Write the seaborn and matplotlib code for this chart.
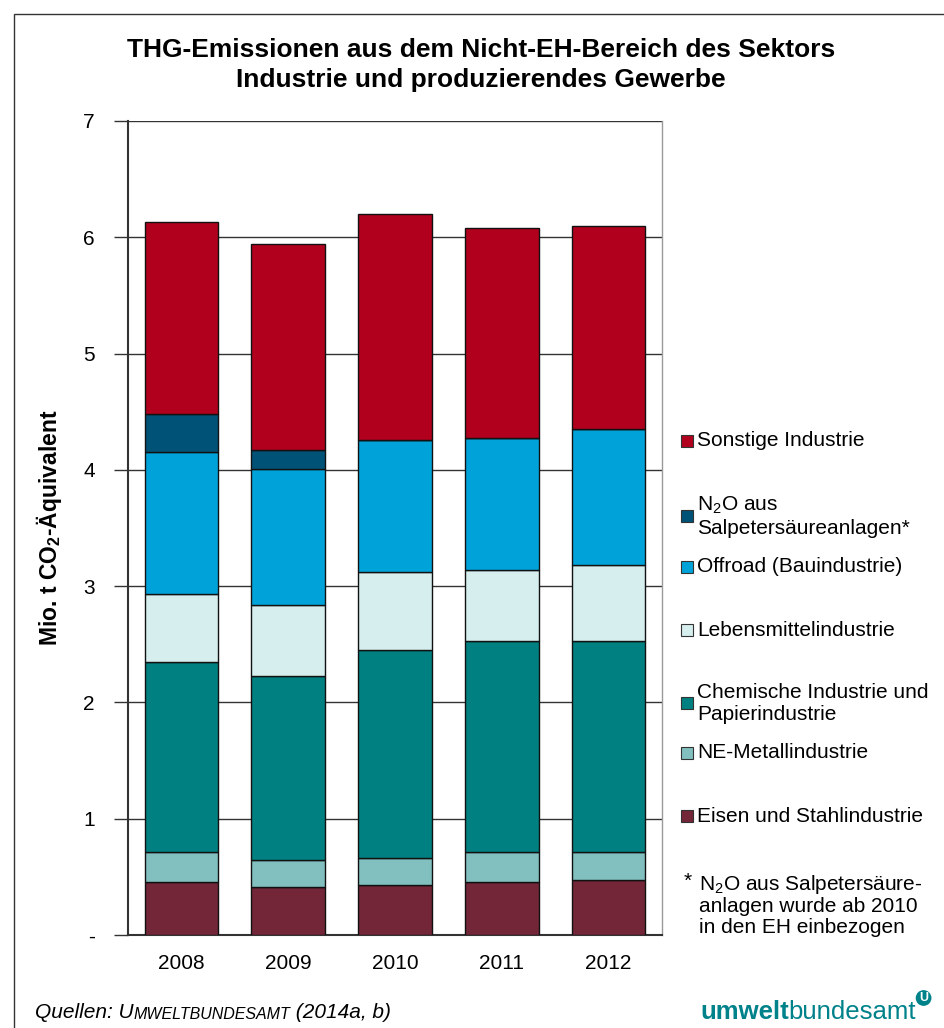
import matplotlib
matplotlib.use("Agg")
import matplotlib.pyplot as plt
import seaborn as sns
import pandas as pd
import numpy as np
from matplotlib.patches import Rectangle

years = ["2008", "2009", "2010", "2011", "2012"]
eisen = [0.46, 0.41, 0.43, 0.46, 0.47]
ne_metall = [0.25, 0.235, 0.23, 0.25, 0.24]
chemie = [1.64, 1.58, 1.79, 1.82, 1.82]
lebensmittel = [0.58, 0.61, 0.67, 0.61, 0.65]
offroad = [1.22, 1.17, 1.14, 1.13, 1.17]
n2o = [0.33, 0.165, 0.0, 0.0, 0.0]
sonstige = [1.65, 1.77, 1.94, 1.81, 1.75]

series_names = ["Eisen und Stahlindustrie", "NE-Metallindustrie",
                "Chemische Industrie und Papierindustrie", "Lebensmittelindustrie",
                "Offroad (Bauindustrie)", "N2O aus Salpetersäureanlagen*",
                "Sonstige Industrie"]
series_values = [eisen, ne_metall, chemie, lebensmittel, offroad, n2o, sonstige]
colors = ["#722638", "#82BFBF", "#008080", "#D6EEEE", "#00A3D9", "#005276", "#B0001E"]

legend_labels = ["Sonstige Industrie", "N$_2$O aus\nSalpetersäureanlagen*",
                 "Offroad (Bauindustrie)", "Lebensmittelindustrie",
                 "Chemische Industrie und\nPapierindustrie", "NE-Metallindustrie",
                 "Eisen und Stahlindustrie"]
legend_colors = colors[::-1]

yticks = [0, 1, 2, 3, 4, 5, 6, 7]
ytick_labels = ["-", "1", "2", "3", "4", "5", "6", "7"]

sns.set_theme(style="white")
plt.rcParams['font.family'] = ['Liberation Sans', 'DejaVu Sans']
plt.rcParams['text.color'] = 'black'
plt.rcParams['axes.labelcolor'] = 'black'
plt.rcParams['xtick.color'] = 'black'
plt.rcParams['ytick.color'] = 'black'
plt.rcParams['mathtext.fontset'] = 'custom'
plt.rcParams['mathtext.rm'] = 'Liberation Sans'
plt.rcParams['mathtext.bf'] = 'Liberation Sans:bold'

fig = plt.figure(figsize=(9.44, 10.28), dpi=100)
ax = fig.add_axes([128/944, 1-935/1028, (662-128)/944, (935-121)/1028])

df = pd.DataFrame({"year": years})
bottom = np.zeros(len(years))
for name, vals, col in zip(series_names, series_values, colors):
    df["v"] = vals
    sns.barplot(data=df, x="year", y="v", ax=ax, color=col, bottom=bottom,
                width=0.69, edgecolor="#111111", linewidth=1.0,
                saturation=1, zorder=3, errorbar=None)
    bottom = bottom + np.array(vals)

ax.set_ylim(0, 7)
ax.set_xlim(-0.5, 4.5)
ax.set_yticks(yticks)
ax.set_yticklabels(ytick_labels, fontsize=15)
ax.set_xticks(range(len(years)))
ax.set_xticklabels(years, fontsize=15)
ax.set_xlabel("")
ax.set_ylabel(r"Mio. t CO$_\mathbf{2}$-Äquivalent", fontsize=16.5, fontweight="bold", labelpad=14)
ax.yaxis.grid(True, color="#333333", linewidth=1.0, zorder=0)
ax.set_axisbelow(True)
ax.tick_params(axis="y", which="both", left=True, length=10, width=1, color="#333333", pad=14, direction="out")
ax.tick_params(axis="x", which="both", bottom=False, pad=8)
for s in ["left", "bottom"]:
    ax.spines[s].set_color("#333333")
    ax.spines[s].set_linewidth(1.5)
ax.spines["top"].set_visible(False)
ax.spines["right"].set_color("#999999")
ax.spines["right"].set_linewidth(1.0)

# frame around figure
fig.patches.append(Rectangle((14/944, -0.1), 1.2, 1 - 14/1028 + 0.1, transform=fig.transFigure,
                             fill=False, edgecolor="#333333", linewidth=1.0))

fig.text(481/944, 1-50/1028, "THG-Emissionen aus dem Nicht-EH-Bereich des Sektors",
         ha="center", va="center", fontsize=19, fontweight="bold")
fig.text(481/944, 1-80/1028, "Industrie und produzierendes Gewerbe",
         ha="center", va="center", fontsize=19, fontweight="bold")

# legend
legend_y = [441, 516, 567, 630, 703, 753, 816]
for lab, col, yy in zip(legend_labels, legend_colors, legend_y):
    fig.patches.append(Rectangle((681/944, 1-(yy+6)/1028), 12/944, 12/1028,
                                 transform=fig.transFigure, facecolor=col,
                                 edgecolor="#333333", linewidth=0.8))
    fig.text(697/944, 1-yy/1028, lab, ha="left", va="center", fontsize=15,
             linespacing=1.2)

fig.text(684/944, 1-881/1028, "*", ha="left", va="center", fontsize=15)
fig.text(699/944, 1-905/1028, "N$_2$O aus Salpetersäure-\nanlagen wurde ab 2010\nin den EH einbezogen",
         ha="left", va="center", fontsize=15, linespacing=1.1)

# source (small caps imitation)
fig.canvas.draw()
ys = 1-1013/1028
s1 = fig.text(35/944, ys, "Quellen: U", ha="left", va="center", fontsize=15, style="italic")
fig.canvas.draw()
x = s1.get_window_extent().x1
s2 = fig.text(x/944, ys - 0.001, "MWELTBUNDESAMT", ha="left", va="center", fontsize=11.5,
              style="italic")
fig.canvas.draw()
x = s2.get_window_extent().x1
fig.text(x/944, ys, " (2014a, b)", ha="left", va="center", fontsize=15, style="italic")

# logo
t1 = fig.text(700/944, 1-1012/1028, "umwelt", ha="left", va="center", fontsize=18.5,
              fontweight="bold", color="#00828A")
fig.canvas.draw()
bb = t1.get_window_extent()
t2 = fig.text(bb.x1/944, 1-1012/1028, "bundesamt", ha="left", va="center", fontsize=18.5,
              color="#00828A")
fig.canvas.draw()
bb2 = t2.get_window_extent()
fig.text(bb2.x1/944 + 0.003, 1-998/1028, "U", ha="left", va="center", fontsize=9,
         fontweight="bold", color="white",
         bbox=dict(boxstyle="circle,pad=0.15", facecolor="#00828A", edgecolor="none"))

fig.savefig("out.png", dpi=100)
